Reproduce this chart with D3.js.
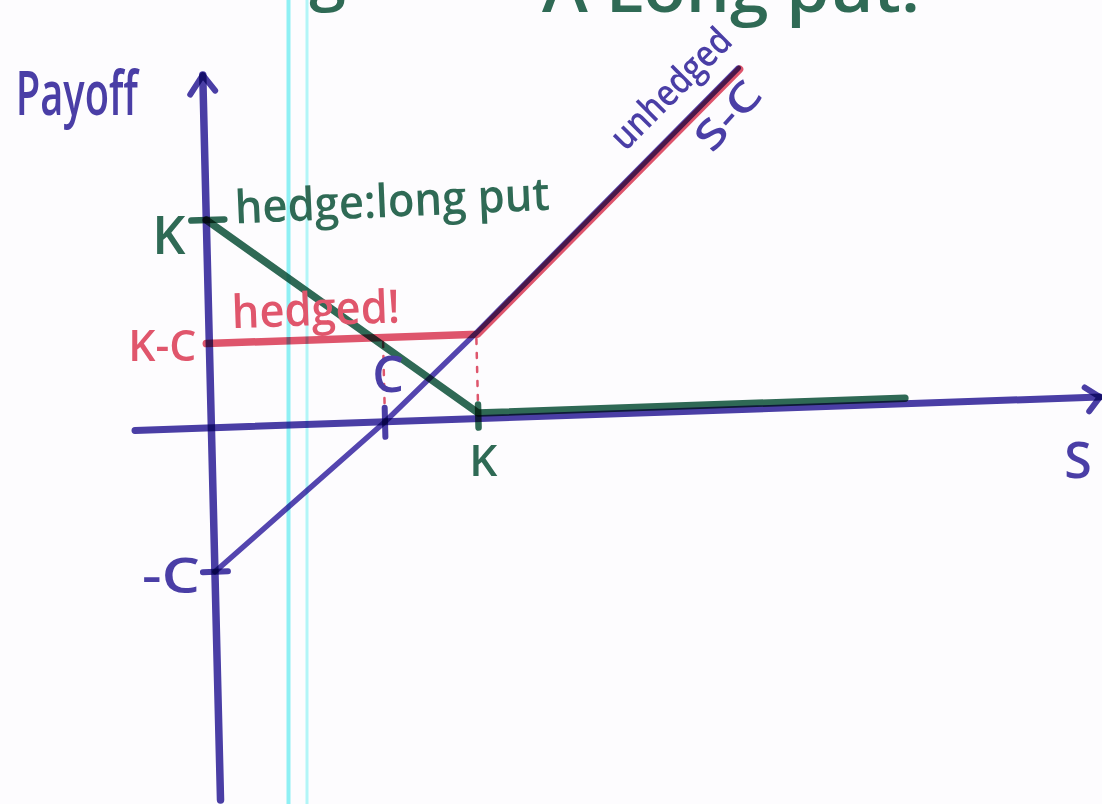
<!DOCTYPE html>
<html>
<head>
<meta charset="utf-8">
<script src="https://cdn.jsdelivr.net/npm/d3@7"></script>
<style>
  html, body { margin: 0; padding: 0; background: #fdfcfe; }
  svg { display: block; }
  text { font-family: "Open Sans", "DejaVu Sans", sans-serif; font-weight: 600; }
</style>
</head>
<body>
<svg id="chart" width="1102" height="804"></svg>
<script>
// ---- values (stock price S, payoff), in price units ----
const premium = 40;            // C : cost of the position
const strike = 61.5;           // K : strike of the put
const hedgedLevel = 23.8;      // K - C : floor of the hedged position
const putAtZero = 56.2;        // K : put payoff when S = 0
const sExtent = [-17.6, 204.7];
const payoffExtent = [-103.4, 98];

// unhedged position: S - C
const unhedgedS      = [0, 40, 61.5, 123.3];
const unhedgedPayoff = [-40, 0, 23.8, 94.8];
// hedge: long put, max(K - S, 0)
const putS      = [0, 61.5, 159.8];
const putPayoff = [56.2, 0, 0];
// hedged position: max(K, S) - C
const hedgedS      = [-1, 61.5, 123.3];
const hedgedPayoff = [23.8, 23.8, 94.8];

const sTickLabels      = ["C", "K"];
const sTickValues      = [premium, strike];
const payoffTickLabels = ["K", "K-C", "-C"];
const payoffTickValues = [putAtZero, hedgedLevel, -premium];
const titleParts       = ["Hedge:", "A Long put."];

// ---- colours (felt-tip markers) ----
const BLUE = "#4a3ea6", LINEBLUE = "#5446b0", GREEN = "#2f6a55", RED = "#e0566c", CYAN = "#8ff0f4";

const W = 1102, H = 804;
const svg = d3.select("#chart");
svg.append("rect").attr("width", W).attr("height", H).attr("fill", "#fdfcfe");

// notebook margin rules
svg.append("line").attr("x1", 288.5).attr("x2", 288.5).attr("y1", 0).attr("y2", H)
  .attr("stroke", CYAN).attr("stroke-width", 4);
svg.append("line").attr("x1", 307).attr("x2", 307).attr("y1", 0).attr("y2", H)
  .attr("stroke", "#b2f5f7").attr("stroke-width", 3);

// page heading, written high on the sheet so only its lowest strokes remain
svg.append("text").attr("x", 402).attr("y", -3).attr("text-anchor", "end")
  .attr("font-size", 66).attr("fill", GREEN).text(titleParts[0]);
svg.append("text").attr("x", 542).attr("y", 12)
  .attr("font-size", 66).attr("fill", GREEN)
  .attr("textLength", 378).attr("lengthAdjust", "spacingAndGlyphs").text(titleParts[1]);

// scales in the (slightly slanted) hand-drawn axis frame
const x = d3.scaleLinear().domain([0, 100]).range([0, 434.05]);
const y = d3.scaleLinear().domain([0, 100]).range([0, -359.9]);

// frame: origin where the axes cross, S axis rising a little, payoff axis leaning left
const M = { a: 1, b: -0.0347, c: 0.0245, d: 1, e: 211.4, f: 427.8 };
const toScreen = (u, v) => [M.a * u + M.c * v + M.e, M.b * u + M.d * v + M.f];

const frame = svg.append("g")
  .attr("transform", `matrix(${M.a},${M.b},${M.c},${M.d},${M.e},${M.f})`);

const ink = (sel, color, w) => sel.attr("fill", "none").attr("stroke", color)
  .attr("stroke-width", w).attr("stroke-linecap", "round").attr("stroke-linejoin", "round")
  .style("mix-blend-mode", "multiply");

const line = d3.line().x(d => x(d[0])).y(d => y(d[1]));

// axes
const x0 = x(sExtent[0]), x1 = x(sExtent[1]);
const yb = y(payoffExtent[0]), yt = y(payoffExtent[1]);
ink(frame.append("path").attr("d", `M${x0},0L${x1},0`), BLUE, 7);
ink(frame.append("path").attr("d", `M${x1 - 15},-10L${x1},0L${x1 - 11},14`), BLUE, 6);
ink(frame.append("path").attr("d", `M0,${yb}L0,${yt}`), BLUE, 7.5);
ink(frame.append("path").attr("d", `M-13,${yt + 19}L0,${yt}L12,${yt + 16}`), BLUE, 6);

// unhedged: S - C
ink(frame.append("path").attr("d", line(d3.zip(unhedgedS, unhedgedPayoff))), LINEBLUE, 5.5);

// hedge: long put (drawn riding just above the S axis)
const putG = frame.append("g").attr("transform", "translate(0,-5.5)");
ink(putG.append("path").attr("d", line(d3.zip(putS, putPayoff))), GREEN, 7.5);
ink(putG.append("path").attr("d", `M-15,${y(payoffTickValues[0])}L18,${y(payoffTickValues[0])}`), GREEN, 6.5);

// hedged: max(K, S) - C  (marker laid a touch low-right of the unhedged stroke)
ink(frame.append("path").attr("transform", "translate(1.3,1.3)")
  .attr("d", line(d3.zip(hedgedS, hedgedPayoff))), RED, 7.5);

// ticks on the axes
ink(frame.append("path").attr("d", `M-12,${y(payoffTickValues[2])}L13,${y(payoffTickValues[2])}`), BLUE, 6);
ink(frame.append("path").attr("d", `M${x(sTickValues[0])},-14L${x(sTickValues[0])},15`), BLUE, 6);
ink(frame.append("path").attr("d", `M${x(sTickValues[1])},-14L${x(sTickValues[1])},9`), GREEN, 6.5);

// dotted drop lines from the hedged floor
sTickValues.forEach(s => {
  ink(frame.append("path").attr("d", `M${x(s)},${y(hedgedLevel) + 6}L${x(s)},-13`), RED, 2.5)
    .attr("stroke-dasharray", "5,9");
});

// ---- labels ----
function label(text, anchorPt, dx, dy, opts) {
  const [sx, sy] = toScreen(x(anchorPt[0]), y(anchorPt[1]));
  const t = svg.append("text")
    .attr("x", 0).attr("y", 0)
    .attr("transform", `translate(${sx + dx},${sy + dy}) rotate(${opts.rotate || 0})`)
    .attr("fill", opts.color)
    .attr("font-size", opts.size)
    .attr("text-anchor", opts.anchor || "start")
    .text(text);
  if (opts.length) t.attr("textLength", opts.length).attr("lengthAdjust", "spacingAndGlyphs");
  return t;
}

label("Payoff", [0, payoffExtent[1]], -187, 40, { color: BLUE, size: 62, length: 122 });
label(payoffTickLabels[0], [0, putAtZero], -21, 28, { color: GREEN, size: 52, anchor: "end" });
label("hedge:long put", [0, putAtZero], 29, -2, { color: GREEN, size: 46, length: 315, rotate: -2.5 });
label(payoffTickLabels[1], [0, hedgedLevel], -13, 19, { color: RED, size: 44, anchor: "end", length: 68 });
label("hedged!", [0, hedgedLevel], 23, -14, { color: RED, size: 46, length: 168, rotate: -2 });
label(payoffTickLabels[2], [0, -premium], -15, 21, { color: BLUE, size: 48, anchor: "end", length: 58 });
label(sTickLabels[0], [premium, 0], 3, -30, { color: BLUE, size: 50, anchor: "middle" });
label(sTickLabels[1], [strike, 0], 5, 57, { color: GREEN, size: 44, anchor: "middle" });
label("S", [sExtent[1], 0], -22, 81, { color: BLUE, size: 50, anchor: "middle" });
label("unhedged", [unhedgedS[3], unhedgedPayoff[3]], -113, 84, { color: BLUE, size: 37, length: 154, rotate: -45 });
label("S-C", [unhedgedS[3], unhedgedPayoff[3]], -26, 86, { color: BLUE, size: 40, length: 78, rotate: -48 });
</script>
</body>
</html>
